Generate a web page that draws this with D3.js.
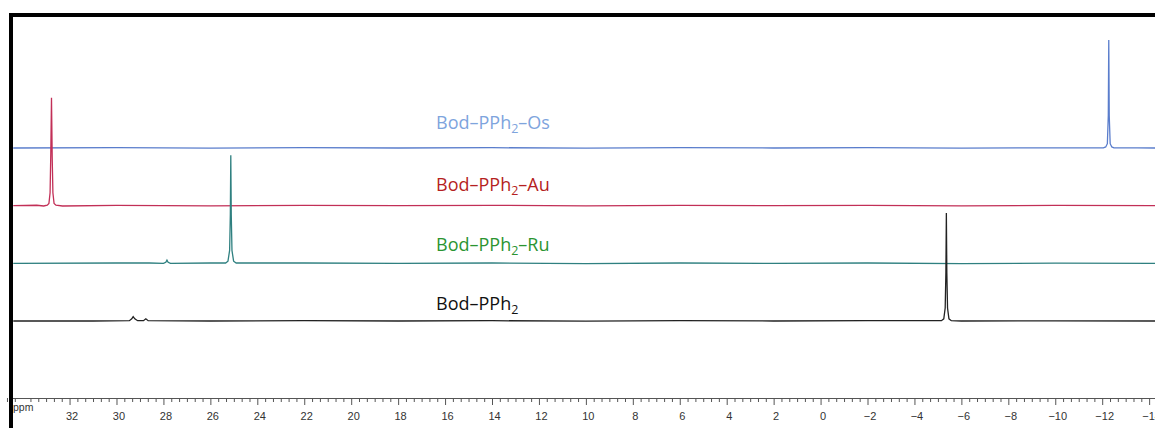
<!DOCTYPE html>
<html>
<head>
<meta charset="utf-8">
<script src="https://cdn.jsdelivr.net/npm/d3@7"></script>
<style>
  html, body { margin: 0; padding: 0; background: #fff; }
  svg { display: block; }
</style>
</head>
<body>
<svg id="chart" width="1155" height="428"></svg>
<script>
// ---------- data ----------
const seriesNames = ["Bod–PPh2–Os", "Bod–PPh2–Au", "Bod–PPh2–Ru", "Bod–PPh2"];
const seriesLabelMain = ["Bod–PPh", "Bod–PPh", "Bod–PPh", "Bod–PPh"];
const seriesLabelTail = ["–Os", "–Au", "–Ru", ""];

// [ppm, relative intensity]
const specOs = [[34.4,0],[30,0.3],[26,-0.2],[22,0.3],[18,0],[14,0.3],[10,-0.2],[6,0.3],[2,0],[-2,0.3],[-6,-0.2],[-10,0.2],
  [-12.05,0.2],[-12.15,1],[-12.22,4],[-12.26,30],[-12.28,100],[-12.30,30],[-12.34,4],[-12.41,1],[-12.5,0.2],[-13.5,0.2],[-14.3,0]];
const specAu = [[34.4,0],[33.4,0.4],[33.1,-0.3],[32.95,0.5],[32.88,2],[32.83,12],[32.80,48],[32.77,100],[32.74,45],[32.71,12],[32.66,2],
  [32.58,0.4],[32.3,-0.3],[30,0.2],[26,-0.2],[22,0.3],[18,0],[14,0.3],[10,-0.2],[6,0.3],[2,0],[-2,0.3],[-6,-0.2],[-10,0.2],[-14.3,0]];
const specRu = [[34.4,0],[30,0.3],[28.6,0.3],[28.0,0],[27.9,1],[27.85,3],[27.8,1],[27.7,0],[26,0.3],
  [25.35,0.3],[25.25,2],[25.18,12],[25.15,45],[25.13,100],[25.11,45],[25.08,12],[25.01,2],[24.9,0.3],
  [22,0.3],[18,0],[14,0.3],[10,-0.2],[6,0.3],[2,0],[-2,0.3],[-6,-0.2],[-10,0.2],[-14.3,0]];
const specBod = [[34.4,0],[31,0],[29.45,0.3],[29.35,2],[29.29,4],[29.22,2],[29.1,0.3],[28.85,0.3],[28.75,2],[28.65,0.3],[26,0],
  [22,0.3],[18,0],[14,0.3],[10,-0.2],[6,0.3],[2,0],[-2,0.3],[-5.15,0.3],[-5.25,2],[-5.31,12],[-5.34,45],[-5.36,100],[-5.38,45],[-5.41,12],[-5.47,2],[-5.57,0.3],
  [-6,0],[-10,0.2],[-14.3,0]];
const spectra = [specOs, specAu, specRu, specBod];

const majorTicks = [32, 30, 28, 26, 24, 22, 20, 18, 16, 14, 12, 10, 8, 6, 4, 2, 0, -2, -4, -6, -8, -10, -12, -14];
const axisUnit = "ppm";

// ---------- styles ----------
const lineColors = ["#5a7dcc", "#c22f57", "#2f8080", "#222222"];
const labelColors = ["#7ea4dd", "#b51f22", "#2b9431", "#111111"];

// ---------- scales ----------
const svg = d3.select("#chart");
const x = d3.scaleLinear().domain([34.41, -14.25]).range([13, 1155]);
const baseline = d3.scalePoint().domain(seriesNames).range([148, 321]);
const h = d3.scaleLinear().domain([0, 100]).range([0, 108]);

// frame
svg.append("rect").attr("x", 9).attr("y", 13).attr("width", 1146).attr("height", 4).attr("fill", "#000");
svg.append("rect").attr("x", 9).attr("y", 13).attr("width", 4).attr("height", 415).attr("fill", "#000");

// clip
svg.append("clipPath").attr("id", "plotclip")
  .append("rect").attr("x", 13).attr("y", 17).attr("width", 1142).attr("height", 380);

const plot = svg.append("g").attr("clip-path", "url(#plotclip)");

spectra.forEach((spec, i) => {
  const name = seriesNames[i];
  const line = d3.line()
    .x(d => x(d[0]))
    .y(d => baseline(name) - h(d[1]));
  plot.append("path")
    .datum(spec)
    .attr("d", line)
    .attr("fill", "none")
    .attr("stroke", lineColors[i])
    .attr("stroke-width", 1.3);
});

// labels
const labelY = [128.5, 191, 250.5, 310];
seriesNames.forEach((name, i) => {
  const t = svg.append("text")
    .attr("x", 436)
    .attr("y", labelY[i])
    .attr("fill", labelColors[i])
    .attr("font-family", "'Open Sans', 'DejaVu Sans', sans-serif")
    .attr("font-size", 18);
  t.append("tspan").text(seriesLabelMain[i]);
  t.append("tspan").attr("font-size", 12.5).attr("dy", 4).text("2");
  if (seriesLabelTail[i]) t.append("tspan").attr("dy", -4).text(seriesLabelTail[i]);
});

// axis
const axisY = 398;
const axisG = svg.append("g").attr("transform", `translate(0,${axisY})`);
const axis = d3.axisBottom(x)
  .tickValues(majorTicks)
  .tickSize(7)
  .tickSizeOuter(0)
  .tickFormat(d => d < 0 ? "−" + Math.abs(d) : String(d));
axisG.call(axis);
axisG.select(".domain").attr("stroke", "#555").attr("d", "M13,0.5H1155");
axisG.selectAll(".tick line").attr("stroke", "#555");
axisG.selectAll(".tick text")
  .attr("fill", "#333")
  .attr("font-family", "'Liberation Sans', 'DejaVu Sans', sans-serif")
  .attr("font-size", 11)
  .attr("dy", "1.05em")
  .attr("dx", 2);

// minor ticks every 1/3 ppm
const minor = d3.range(-14 * 3, 34.4 * 3 + 1).map(v => v / 3).filter(v => Math.abs(v - Math.round(v / 2) * 2) > 0.01);
axisG.selectAll(".minor").data(minor).join("line")
  .attr("class", "minor")
  .attr("x1", d => x(d) + 0.5).attr("x2", d => x(d) + 0.5)
  .attr("y1", 0).attr("y2", 4)
  .attr("stroke", "#555");

svg.append("text")
  .attr("x", 13).attr("y", 411)
  .attr("fill", "#333")
  .attr("font-family", "'Liberation Sans', 'DejaVu Sans', sans-serif")
  .attr("font-size", 10.5)
  .text(axisUnit);
</script>
</body>
</html>
